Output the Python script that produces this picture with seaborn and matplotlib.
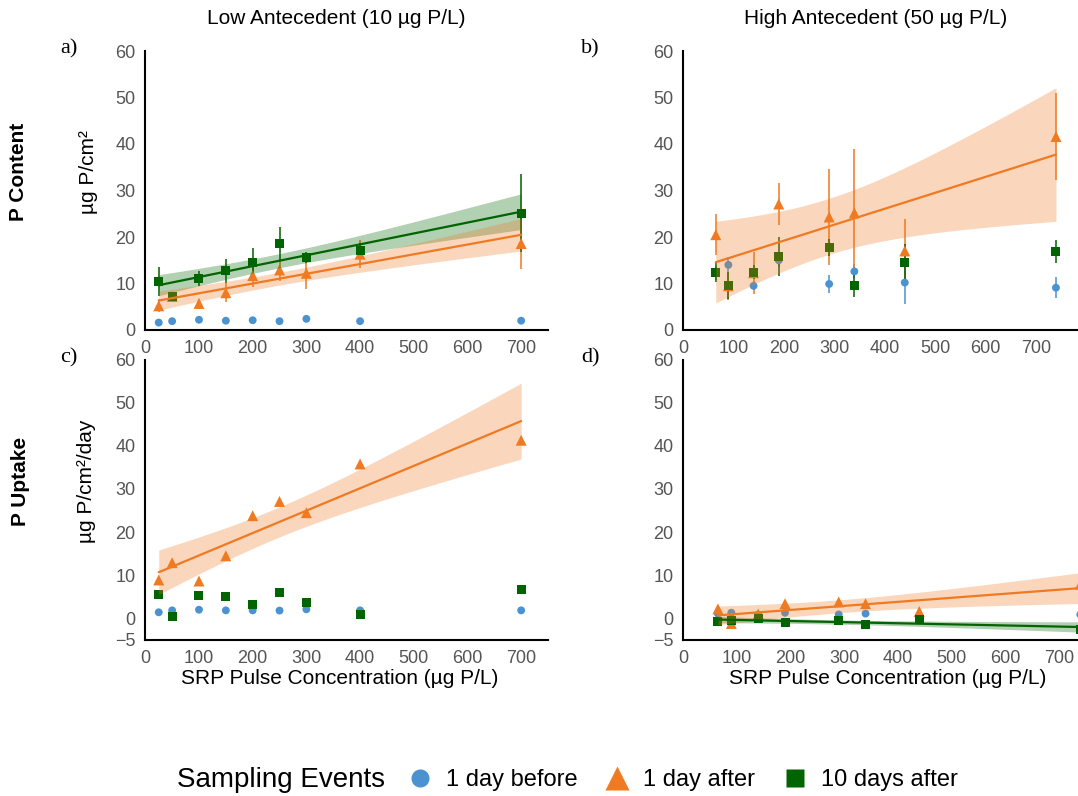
import numpy as np
import pandas as pd
import matplotlib
matplotlib.use("Agg")
import matplotlib.pyplot as plt
from matplotlib.lines import Line2D
import seaborn as sns

# ---------------- data ----------------
x_low = [25, 50, 100, 150, 200, 250, 300, 400, 700]
x_high = [65, 90, 140, 190, 290, 340, 440, 740]

# a) P content, low antecedent
a_before = [1.6, 1.9, 2.2, 2.0, 2.1, 1.9, 2.4, 1.9, 2.0]
a_before_err = [0.3, 0.3, 0.3, 0.3, 0.3, 0.3, 0.3, 0.3, 0.3]
a_after = [5.2, 7.2, 5.7, 8.0, 11.7, 12.9, 12.2, 16.3, 18.6]
a_after_err = [1.4, 1.0, 1.0, 2.0, 2.5, 2.3, 3.4, 3.0, 5.5]
a_10d = [10.5, 7.3, 11.0, 12.7, 14.6, 18.6, 15.6, 17.0, 25.1]
a_10d_err = [3.1, 0.8, 1.6, 2.5, 3.0, 3.6, 1.2, 1.8, 8.4]

# b) P content, high antecedent
b_before = [12.2, 14.0, 9.5, 15.0, 9.9, 12.6, 10.2, 9.1]
b_before_err = [1.5, 1.8, 1.0, 1.5, 2.0, 1.5, 4.6, 2.2]
b_after = [20.5, 9.5, 12.3, 27.1, 24.3, 25.2, 17.0, 41.6]
b_after_err = [4.4, 3.0, 4.5, 4.6, 10.4, 13.7, 6.8, 9.4]
b_10d = [12.4, 9.6, 12.4, 15.9, 17.7, 9.6, 14.5, 16.9]
b_10d_err = [2.0, 2.9, 1.5, 4.2, 1.8, 2.6, 4.0, 2.5]

# c) P uptake, low antecedent
c_before = [1.4, 1.85, 2.0, 1.85, 1.85, 1.8, 2.1, 1.85, 1.85]
c_after = [8.9, 12.9, 8.65, 14.5, 23.8, 27.1, 24.5, 35.8, 41.3]
c_10d = [5.6, 0.5, 5.3, 5.1, 3.2, 6.0, 3.7, 0.9, 6.7]

# d) P uptake, high antecedent
d_before = [1.1, 1.3, 0.85, 1.3, 0.9, 1.1, 0.4, 0.9]
d_after = [2.2, -1.2, 1.0, 3.4, 3.8, 3.4, 1.6, 7.9]
d_10d = [-0.7, -0.45, -0.1, -0.95, -0.45, -1.4, -0.25, -2.5]

event_labels = ["1 day before", "1 day after", "10 days after"]
col_titles = ["Low Antecedent (10 µg P/L)", "High Antecedent (50 µg P/L)"]
row_titles = ["P Content", "P Uptake"]
y_labels = ["µg P/cm²", "µg P/cm²/day"]
x_label = "SRP Pulse Concentration (µg P/L)"

# two-sided 95% t critical values by residual degrees of freedom
T95 = {6: 2.447, 7: 2.365}

# ---------------- style ----------------
sns.set_theme(style="white")
plt.rcParams["font.family"] = ["Liberation Sans", "DejaVu Sans"]
plt.rcParams["text.color"] = "black"

BLUE = "#4b92d1"
ORANGE = "#ef7a22"
GREEN = "#006400"
colors = {"before": BLUE, "after": ORANGE, "10d": GREEN}
markers = {"before": "o", "after": "^", "10d": "s"}
msize = {"before": 32, "after": 62, "10d": 42}

W, H = 1078, 796
fig = plt.figure(figsize=(W / 100, H / 100), dpi=100)


def add_ax(l, t, w, h):
    return fig.add_axes([l / W, 1 - (t + h) / H, w / W, h / H])


ax_a = add_ax(145.3, 51, 402.7, 279)
ax_b = add_ax(683, 51, 403.2, 279)
ax_c = add_ax(145.3, 359.6, 402.7, 280.3)
ax_d = add_ax(683, 359.6, 402.7, 280.3)


def style_axis(ax, xmax, ymin, yticks):
    ax.set_xlim(0, xmax)
    ax.set_ylim(ymin, 60)
    ax.set_xticks([0, 100, 200, 300, 400, 500, 600, 700])
    ax.set_yticks(yticks)
    for s in ["top", "right"]:
        ax.spines[s].set_visible(False)
    for s in ["left", "bottom"]:
        ax.spines[s].set_color("black")
        ax.spines[s].set_linewidth(1.5)
    ax.tick_params(axis="both", direction="out", length=5, width=1.3,
                   color="black", labelsize=13, labelcolor="#555555", pad=2)
    ax.set_xlabel("")
    ax.set_ylabel("")
    ax.grid(False)


def conf_band(ax, x, y, color):
    x = np.asarray(x, float)
    y = np.asarray(y, float)
    n = len(x)
    slope, icpt = np.polyfit(x, y, 1)
    resid = y - (icpt + slope * x)
    s = np.sqrt(np.sum(resid ** 2) / (n - 2))
    sxx = np.sum((x - x.mean()) ** 2)
    xs = np.linspace(x.min(), x.max(), 200)
    fit = icpt + slope * xs
    half = T95[n - 2] * s * np.sqrt(1.0 / n + (xs - x.mean()) ** 2 / sxx)
    ax.fill_between(xs, fit - half, fit + half, color=color, alpha=0.3,
                    lw=0, zorder=3)


def draw(ax, x, series, fits):
    for key in ["before", "after", "10d"]:
        y, err = series[key]
        if err is not None:
            ax.errorbar(x, y, yerr=err, fmt="none", ecolor=colors[key],
                        elinewidth=1.3, alpha=0.85, zorder=1)
        sns.scatterplot(x=x, y=y, ax=ax, marker=markers[key], s=msize[key],
                        color=colors[key], edgecolor="none", linewidth=0,
                        zorder=2, legend=False)
    for key in fits:
        y, _ = series[key]
        conf_band(ax, x, y, colors[key])
        sns.regplot(x=x, y=y, ax=ax, scatter=False, color=colors[key], ci=None,
                    truncate=True, line_kws=dict(lw=1.6, zorder=4))


draw(ax_a, x_low, {"before": (a_before, a_before_err),
                   "after": (a_after, a_after_err),
                   "10d": (a_10d, a_10d_err)}, ["10d", "after"])
draw(ax_b, x_high, {"before": (b_before, b_before_err),
                    "after": (b_after, b_after_err),
                    "10d": (b_10d, b_10d_err)}, ["after"])
draw(ax_c, x_low, {"before": (c_before, None),
                   "after": (c_after, None),
                   "10d": (c_10d, None)}, ["after"])
draw(ax_d, x_high, {"before": (d_before, None),
                    "after": (d_after, None),
                    "10d": (d_10d, None)}, ["10d", "after"])

style_axis(ax_a, 750, 0, [0, 10, 20, 30, 40, 50, 60])
style_axis(ax_b, 800, 0, [0, 10, 20, 30, 40, 50, 60])
style_axis(ax_c, 750, -5, [-5, 0, 10, 20, 30, 40, 50, 60])
style_axis(ax_d, 750, -5, [-5, 0, 10, 20, 30, 40, 50, 60])

# ---------------- texts ----------------
fig.text(336 / W, 1 - 19 / H, col_titles[0], ha="center", va="center", fontsize=15)
fig.text(876 / W, 1 - 19 / H, col_titles[1], ha="center", va="center", fontsize=15)

for lab, (px, py) in zip(["a)", "b)", "c)", "d)"],
                         [(60, 49), (581, 49), (60, 358), (581, 358)]):
    fig.text(px / W, 1 - py / H, lab, ha="left", va="center", fontsize=16,
             family=["Liberation Serif", "DejaVu Serif"])

fig.text(19 / W, 1 - 172 / H, row_titles[0], rotation=90, ha="center",
         va="center", fontsize=15, fontweight="bold")
fig.text(21 / W, 1 - 481 / H, row_titles[1], rotation=90, ha="center",
         va="center", fontsize=15, fontweight="bold")
fig.text(88 / W, 1 - 172 / H, y_labels[0], rotation=90, ha="center",
         va="center", fontsize=15)
fig.text(87 / W, 1 - 481 / H, y_labels[1], rotation=90, ha="center",
         va="center", fontsize=15)
fig.text(340 / W, 1 - 678 / H, x_label, ha="center", va="center", fontsize=15)
fig.text(888 / W, 1 - 678 / H, x_label, ha="center", va="center", fontsize=15)

# ---------------- legend ----------------
fig.text(281 / W, 1 - 780 / H, "Sampling Events", ha="center", va="center",
         fontsize=20)
handles = [
    Line2D([], [], ls="none", marker="o", ms=13, color=BLUE, mec="none"),
    Line2D([], [], ls="none", marker="^", ms=17, color=ORANGE, mec="none"),
    Line2D([], [], ls="none", marker="s", ms=13, color=GREEN, mec="none"),
]
fig.legend(handles, event_labels, loc="center",
           bbox_to_anchor=(683 / W, 1 - 780 / H), ncol=3, frameon=False,
           fontsize=17, handlelength=1.0, handletextpad=0.6,
           columnspacing=1.2, borderpad=0, borderaxespad=0)

fig.savefig("out.png", dpi=100)
